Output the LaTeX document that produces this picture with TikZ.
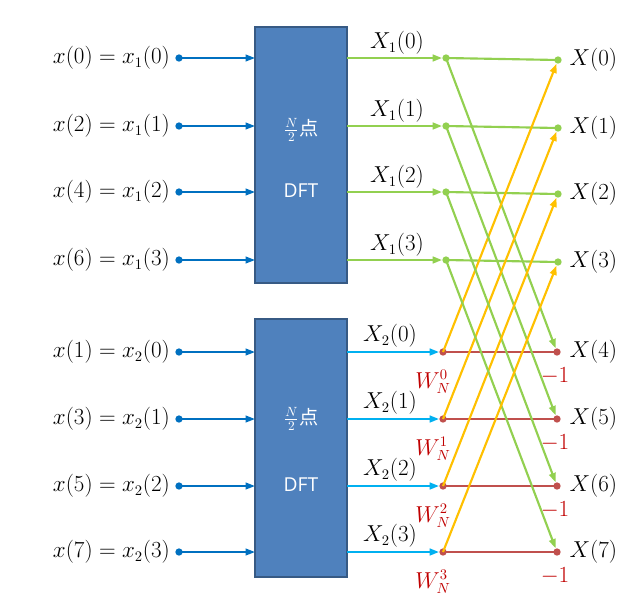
\documentclass[tikz,border=0pt]{standalone}
\usepackage{fontspec}
\newfontfamily\cjk{Noto Sans CJK SC}
\newfontfamily\sansf{Open Sans}
\usetikzlibrary{arrows.meta}
\definecolor{boxblue}{HTML}{4F81BD}
\definecolor{inblue}{HTML}{0070C0}
\definecolor{cyanb}{HTML}{00B0F0}
\definecolor{grn}{HTML}{92D050}
\definecolor{org}{HTML}{FFC000}
\definecolor{dred}{HTML}{C0504D}
\definecolor{wred}{HTML}{C00000}
\begin{document}
\begin{tikzpicture}[x=0.75pt,y=-0.75pt,
  box/.style={draw=boxblue!70!black,fill=boxblue,line width=1pt},
  dot/.style={circle,inner sep=0pt,minimum size=5.5pt},
  big/.style={font=\fontsize{16}{19}\selectfont},
  lab/.style={big,anchor=east,inner sep=0pt},
  arr/.style={line width=1.6pt,-{Triangle[length=7pt,width=5pt]}},
  ln/.style={line width=1.6pt},
  wl/.style={big,text=wred,inner sep=0pt}]
\useasboundingbox (0,0) rectangle (620,604);
\node[box,minimum width=69pt,minimum height=192pt,inner sep=0pt] (b1) at (301,155) {};
\node[box,minimum width=69pt,minimum height=193.5pt,inner sep=0pt] (b2) at (301,448) {};
\node[text=white,font=\cjk\Large] (n1) at (301,130) {$\frac{N}{2}$点};
\node[text=white,font=\sansf\Large] (d1) at (301,191) {DFT};
\node[text=white,font=\cjk\Large] (n2) at (301,419) {$\frac{N}{2}$点};
\node[text=white,font=\sansf\Large] (d2) at (301,485) {DFT};
% inputs
\foreach \y/\a/\b/\i [count=\k from 0] in {58/0/1/0,126/2/1/1,192/4/1/2,260/6/1/3,352/1/2/0,419/3/2/1,486/5/2/2,552/7/2/3}{
  \node[lab] (t\k) at (170,\y) {$x(\a)=x_\b(\i)$};
  \node[dot,fill=inblue] (s\k) at (179,\y) {};
  \draw[arr,inblue,line width=1.3pt] (s\k.center) -- (255,\y);
}
% outputs of DFT and nodes
\foreach \y [count=\k from 0] in {58,126,192,260}{
  \node[dot,fill=grn] (L\k) at (446,\y) {};
  \node[dot,fill=grn] (R\k) at (558,\y+2) {};
  \draw[arr,grn] (347,\y) -- (L\k.west);
  \node[big] at (397,\y-15) {$X_1(\k)$};
  \node[big,anchor=west,inner sep=1pt] (O\k) at (568,\y+2) {$X(\k)$};
  \draw[ln,grn] (L\k.center) -- (R\k.center);
}
\foreach \y [count=\k from 0] in {352,419,486,552}{
  \pgfmathtruncatemacro{\m}{\k+4}
  \node[dot,fill=dred] (L\m) at (443,\y) {};
  \node[dot,fill=dred] (R\m) at (557,\y) {};
  \draw[arr,cyanb] (347,\y) -- (L\m.west);
  \node[big] at (390,\y-16) {$X_2(\k)$};
  \node[big,anchor=west,inner sep=1pt] at (568,\y) {$X(\m)$};
  \draw[ln,dred] (L\m.center) -- (R\m.center);
  \node[wl] at (433,\y+30) {$W_N^{\k}$};
  \node[wl] at (555,\y+24) {$-1$};
}
% crossings
\foreach \k in {0,1,2,3}{
  \pgfmathtruncatemacro{\m}{\k+4}
  \draw[arr,grn] (L\k.center) -- (R\m);
  \draw[arr,org] (L\m.center) -- (R\k);
}
\end{tikzpicture}
\end{document}
